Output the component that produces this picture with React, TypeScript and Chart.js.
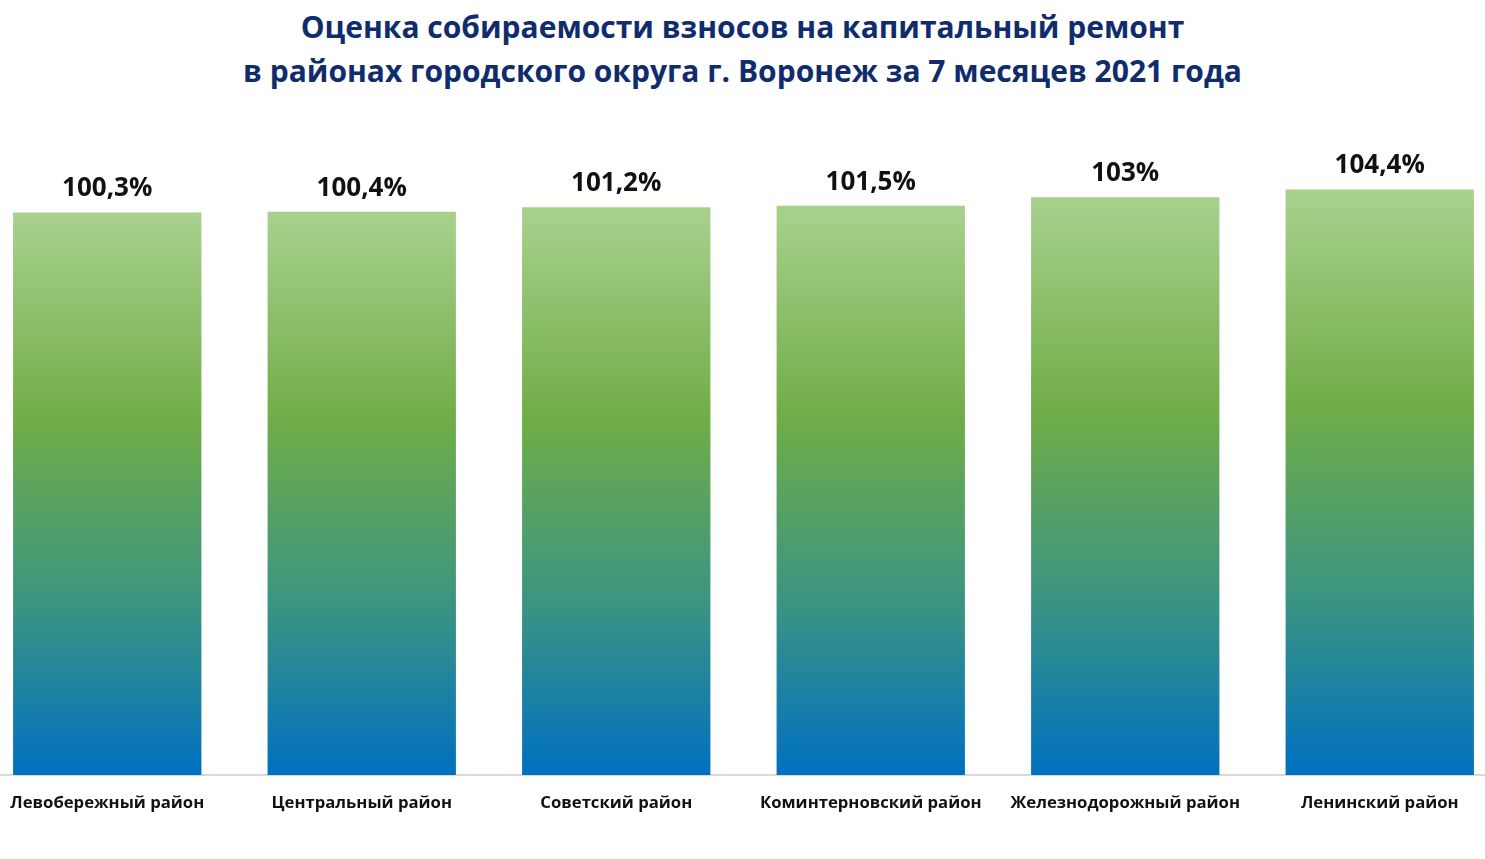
import React, { useEffect, useRef } from "react";
import { Chart, registerables } from "chart.js";

Chart.register(...registerables);

const titleLines = [
  "Оценка собираемости взносов на капитальный ремонт",
  "в районах городского округа г. Воронеж за 7 месяцев 2021 года",
];

const districts = [
  "Левобережный район",
  "Центральный район",
  "Советский район",
  "Коминтерновский район",
  "Железнодорожный район",
  "Ленинский район",
];

const collectionPercent = [100.3, 100.4, 101.2, 101.5, 103, 104.4];

const formatPct = (v: number) => String(v).replace(".", ",") + "%";

const valueLabelPlugin = {
  id: "valueLabels",
  afterDatasetsDraw(chart: any) {
    const { ctx } = chart;
    const meta = chart.getDatasetMeta(0);
    ctx.save();
    ctx.font = "bold 26px 'Open Sans'";
    ctx.fillStyle = "#111111";
    ctx.textAlign = "center";
    ctx.textBaseline = "alphabetic";
    meta.data.forEach((bar: any, i: number) => {
      ctx.fillText(formatPct(collectionPercent[i]), bar.x, bar.y - 16);
    });
    ctx.restore();
  },
};

export default function App() {
  const canvasRef = useRef<HTMLCanvasElement | null>(null);

  useEffect(() => {
    document.body.style.margin = "0";
    document.body.style.background = "#ffffff";
    if (!canvasRef.current) return;
    const chart = new Chart(canvasRef.current, {
      type: "bar",
      data: {
        labels: districts,
        datasets: [
          {
            data: collectionPercent,
            backgroundColor: (c: any) => {
              const ch = c.chart;
              if (!ch.chartArea || c.raw == null) return "#70ad47";
              const ys = ch.scales.y;
              const top = ys.getPixelForValue(c.raw);
              const bottom = ys.getPixelForValue(0);
              const g = ch.ctx.createLinearGradient(0, top, 0, bottom);
              g.addColorStop(0, "#a9d18e");
              g.addColorStop(0.37, "#70ad47");
              g.addColorStop(0.7, "#3a9482");
              g.addColorStop(1, "#0070c0");
              return g;
            },
            borderWidth: 0,
            categoryPercentage: 1,
            barPercentage: 0.74,
          },
        ],
      },
      options: {
        animation: false,
        responsive: true,
        maintainAspectRatio: false,
        layout: { padding: { top: 158, left: 0, right: 0, bottom: 0 } },
        plugins: {
          legend: { display: false },
          tooltip: { enabled: false },
          title: { display: false },
        },
        scales: {
          x: {
            grid: { display: true, drawOnChartArea: false, drawTicks: false },
            border: { display: true, color: "#d9d9d9", width: 2 },
            ticks: {
              color: "#111111",
              font: { family: "'Open Sans'", size: 16.7, weight: "bold" },
              padding: 18,
              maxRotation: 0,
              autoSkip: false,
            },
            afterFit: (scale: any) => {
              scale.height = 84;
            },
          },
          y: {
            display: false,
            min: 0,
            max: 110,
          },
        },
      },
      plugins: [valueLabelPlugin],
    });
    return () => chart.destroy();
  }, []);

  return (
    <div style={{ position: "fixed", left: 0, top: 0, width: 1485, height: 859, overflow: "hidden", background: "#ffffff" }}>
      <div
        style={{
          position: "absolute",
          left: 0,
          top: 5,
          width: 1485,
          textAlign: "center",
          fontFamily: "'Open Sans', sans-serif",
          fontWeight: 700,
          fontSize: 30,
          lineHeight: "44px",
          color: "#102c6c",
        }}
      >
        {titleLines.map((t, i) => (
          <div key={i}>{t}</div>
        ))}
      </div>
      <div style={{ position: "absolute", left: -20, top: 0, width: 1527, height: 859 }}>
        <canvas ref={canvasRef} />
      </div>
    </div>
  );
}
